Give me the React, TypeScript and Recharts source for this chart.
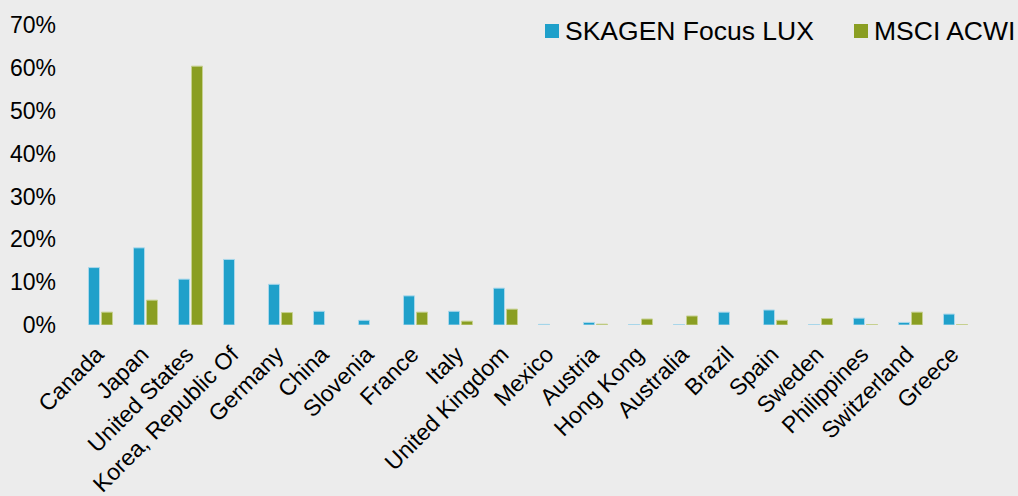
import React from 'react';
import { BarChart, Bar, XAxis, YAxis, Legend } from 'recharts';

const countries = [
  'Canada', 'Japan', 'United States', 'Korea, Republic Of', 'Germany', 'China', 'Slovenia',
  'France', 'Italy', 'United Kingdom', 'Mexico', 'Austria', 'Hong Kong', 'Australia',
  'Brazil', 'Spain', 'Sweden', 'Philippines', 'Switzerland', 'Greece',
];
const skagenFocus = [13.4, 18.0, 10.7, 15.3, 9.5, 3.2, 1.1, 6.8, 3.2, 8.6, 0.15, 0.6, 0.1, 0.1, 3.0, 3.5, 0.1, 1.6, 0.6, 2.55];
const msciAcwi = [3.0, 5.8, 60.4, 0, 2.9, 0, 0, 3.0, 0.9, 3.7, 0, 0.2, 1.4, 2.1, 0, 1.1, 1.5, 0.1, 3.0, 0.1];
const yTicks = [0, 10, 20, 30, 40, 50, 60, 70];
const seriesNames = ['SKAGEN Focus LUX', 'MSCI ACWI'];

const BLUE = '#1fa0ca';
const GREEN = '#8a9e22';
const FONT = '"Liberation Sans", Arial, Helvetica, sans-serif';

const data = countries.map((c, i) => ({ country: c, skagen: skagenFocus[i], msci: msciAcwi[i] }));

const XTick = (props: any) => {
  const { x, y, payload } = props;
  return (
    <g transform={`translate(${x + 5},${y + 31})`}>
      <text
        x={0}
        y={0}
        textAnchor="end"
        transform="rotate(-45)"
        fontSize={23}
        fontFamily={FONT}
        fill="#000"
      >
        {payload.value}
      </text>
    </g>
  );
};

const LegendContent = () => (
  <div style={{ position: 'relative', height: 0 }}>
    {[{ name: seriesNames[0], color: BLUE, left: 545, textLeft: 565 }, { name: seriesNames[1], color: GREEN, left: 854, textLeft: 874 }].map((it) => (
      <React.Fragment key={it.name}>
        <div style={{ position: 'absolute', left: it.left, top: 24, width: 14, height: 14, background: it.color }} />
        <div style={{ position: 'absolute', left: it.textLeft, top: 14, fontFamily: FONT, fontSize: 26.5, lineHeight: '34px', color: '#000', whiteSpace: 'nowrap' }}>
          {it.name}
        </div>
      </React.Fragment>
    ))}
  </div>
);

export default function App() {
  return (
    <div style={{ position: 'absolute', left: 0, top: 0, width: 1018, height: 496, background: '#ececec', overflow: 'hidden' }}>
      <BarChart
        width={1018}
        height={496}
        data={data}
        margin={{ top: 25, right: 40.5, left: 0, bottom: 0 }}
        barGap={2}
        barSize={11}
      >
        <XAxis
          dataKey="country"
          interval={0}
          axisLine={false}
          tickLine={false}
          tickSize={0}
          tickMargin={0}
          height={171}
          tick={<XTick />}
        />
        <YAxis
          width={77.5}
          domain={[0, 70]}
          ticks={yTicks}
          axisLine={false}
          tickLine={false}
          tickSize={0}
          tickMargin={21.5}
          tickFormatter={(v: number) => `${v}%`}
          tick={{ fontSize: 23, fontFamily: FONT, fill: '#000' }}
          allowDataOverflow
        />
        <Legend
          content={<LegendContent />}
          wrapperStyle={{ left: 0, top: 0, width: 1018, height: 0 }}
          verticalAlign="top"
        />
        <Bar dataKey="skagen" name={seriesNames[0]} fill={BLUE} stroke="#a9d7eb" strokeWidth={1} isAnimationActive={false} />
        <Bar dataKey="msci" name={seriesNames[1]} fill={GREEN} stroke="#c6d08f" strokeWidth={1} isAnimationActive={false} />
      </BarChart>
    </div>
  );
}
